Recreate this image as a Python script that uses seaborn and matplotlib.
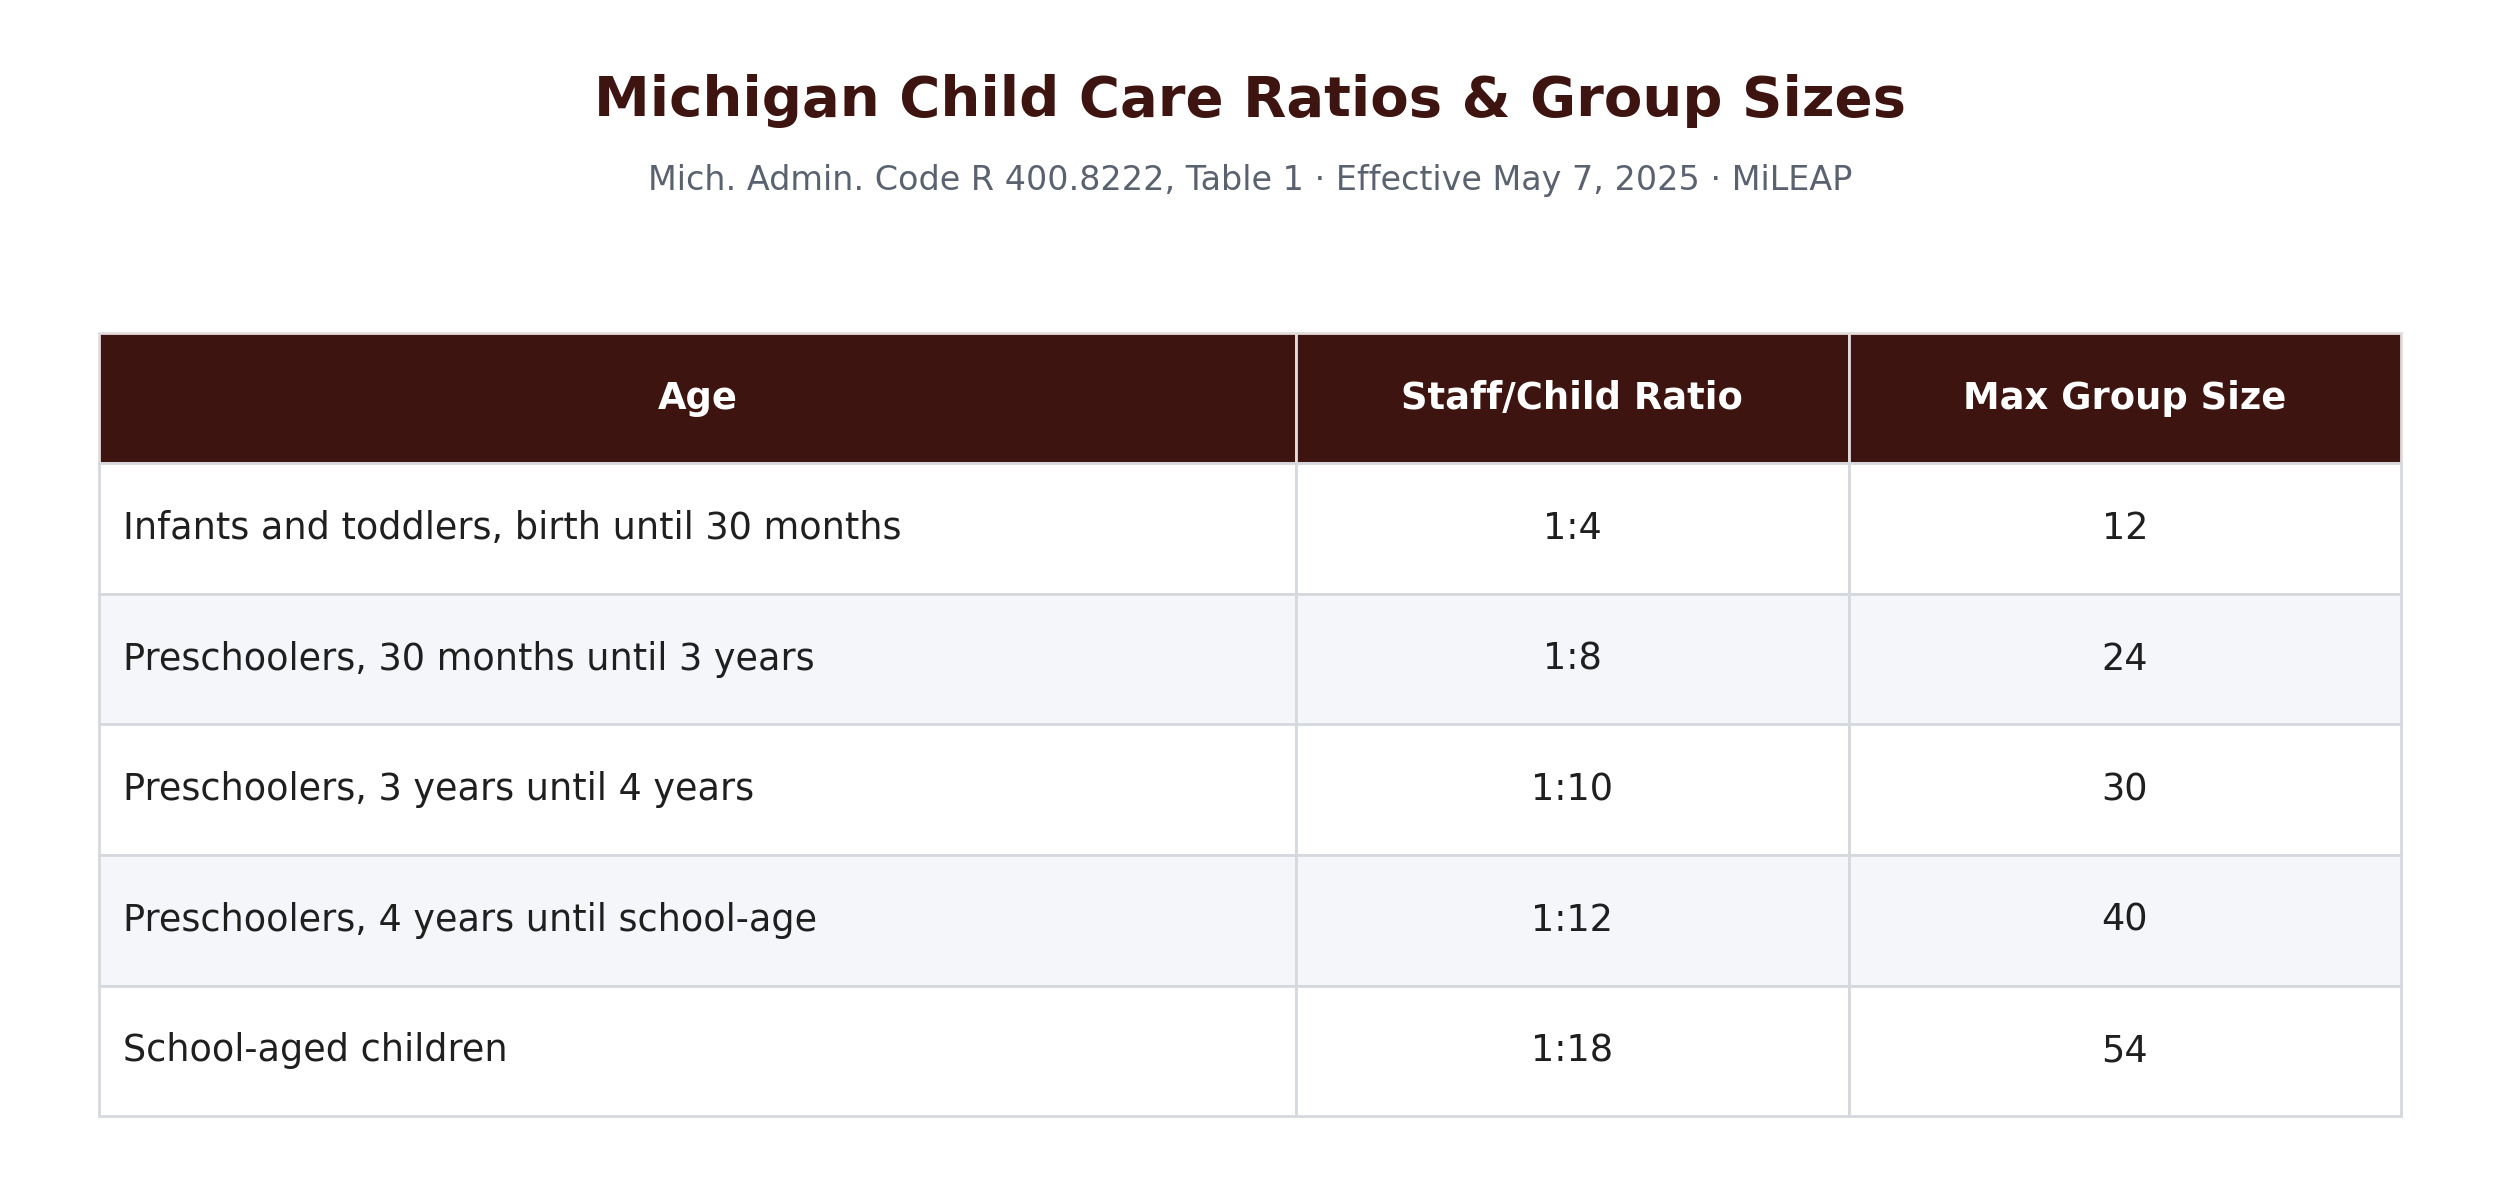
import numpy as np
import pandas as pd
import seaborn as sns
import matplotlib.pyplot as plt

# %%
age_groups = ['Infants and toddlers, birth until 30 months',
 'Preschoolers, 30 months until 3 years',
 'Preschoolers, 3 years until 4 years',
 'Preschoolers, 4 years until school-age',
 'School-aged children',
]
ratios = ['1:4', '1:8', '1:10', '1:12', '1:18']
group_sizes = [12, 24, 30, 40, 54]
col_labels = ['Age', 'Staff/Child Ratio', 'Max Group Size']

title = 'Michigan Child Care Ratios & Group Sizes'
subtitle = 'Mich. Admin. Code R 400.8222, Table 1 \u00b7 Effective May 7, 2025 \u00b7 MiLEAP'

# %%
sns.set_theme(style='white')
plt.rcParams['font.family'] = ['DejaVu Sans']

maroon = '#3d1410'
grid_col = '#d5d9de'
stripe = '#f5f6fa'

data = pd.DataFrame({
    'Age': age_groups,
    'Staff/Child Ratio': ratios,
    'Max Group Size': group_sizes,
})

fig = plt.figure(figsize=(12.5, 5.935), dpi=200)
fig.text(0.5, 1 - 101 / 1187, title, ha='center', va='center',
         fontsize=20.2, fontweight='bold', color=maroon)
fig.text(0.5, 1 - 181 / 1187, subtitle, ha='center', va='center',
         fontsize=12, color='#5a6270')

ax = fig.add_axes([99 / 2500, 1 - 1116 / 1187, 2302 / 2500, 783 / 1187])
ax.axis('off')

col_widths = [0.52, 0.24, 0.24]
tbl = ax.table(cellText=data.astype(str).values, colLabels=col_labels,
               colWidths=col_widths, bbox=[0, 0, 1, 1], cellLoc='center')
tbl.auto_set_font_size(False)

for (r, c), cell in tbl.get_celld().items():
    txt = cell.get_text()
    cell.set_linewidth(1.0)
    if r == 0:
        cell.set_facecolor(maroon)
        cell.set_edgecolor('#e3dcdc')
        txt.set_color('white')
        txt.set_fontweight('bold')
        txt.set_fontsize(13.3)
    else:
        cell.set_facecolor(stripe if r % 2 == 0 else 'white')
        cell.set_edgecolor(grid_col)
        txt.set_color('#1f1f1f')
        txt.set_fontsize(13.2)
        if c == 0:
            cell.PAD = 0.02
            cell._loc = 'left'
            txt.set_ha('left')

fig.savefig('out.png', dpi=200, facecolor='white')
